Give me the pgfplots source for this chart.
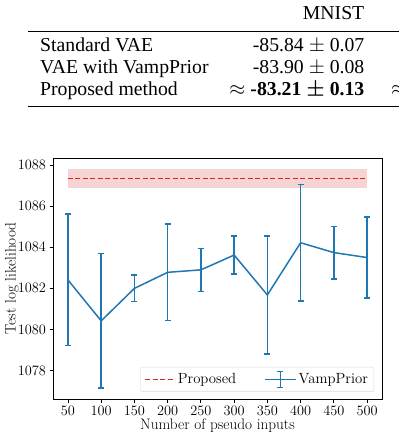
\documentclass[border=0pt]{standalone}
\usepackage{fontspec}
\usepackage{pgfplots}
\pgfplotsset{compat=1.18}
\newfontfamily\timesfont{Liberation Serif}
\definecolor{cblue}{RGB}{31,119,180}
\definecolor{cred}{RGB}{214,39,40}
\pgfplotstableread{
x y e
50 1082.41 3.20
100 1080.42 3.27
150 1082.00 0.64
200 1082.78 2.35
250 1082.90 1.05
300 1083.62 0.93
350 1081.68 2.87
400 1084.22 2.84
450 1083.74 1.28
500 1083.50 1.98
}\vamp
\begin{document}
\begin{tikzpicture}[x=1bp,y=1bp]
\path[use as bounding box] (0,0) rectangle (398,-438);
% table
\begin{scope}[every node/.style={inner sep=0pt, font=\timesfont\fontsize{19.8}{23}\selectfont}]
\node[anchor=base east] at (364.5,-19.5) {MNIST};
\draw[line width=0.9] (28,-31) -- (400,-31);
\node[anchor=base west] at (40,-52) {Standard VAE};
\node[anchor=base east] at (364.5,-52) {-85.84 $\pm$ 0.07};
\node[anchor=base west] at (40,-74) {VAE with VampPrior};
\node[anchor=base east] at (364.5,-74) {-83.90 $\pm$ 0.08};
\node[anchor=base west] at (40,-95.7) {Proposed method};
\node[anchor=base east] at (364.5,-95.7) {$\approx$ \textbf{-83.21 {\boldmath$\pm$} 0.13}};
\node[anchor=base west] at (391,-95.7) {$\approx$};
\draw[line width=1.6] (28,-106.7) -- (400,-106.7);
\end{scope}
\begin{axis}[
  at={(53bp,-399bp)}, anchor=south west,
  scale only axis, width=329bp, height=241bp,
  xmin=27.5, xmax=522.5, ymin=1076.62, ymax=1088.34,
  xtick={50,100,...,500}, ytick={1078,1080,...,1088},
  /pgf/number format/1000 sep={},
  tick align=outside, xtick pos=bottom, ytick pos=left,
  major tick length=3.5bp,
  every tick/.style={black, line width=0.8bp},
  axis line style={line width=0.8bp, black},
  tick label style={font=\fontsize{14.5}{17}\selectfont},
  label style={font=\fontsize{15.3}{18}\selectfont},
  xlabel={Number of pseudo inputs},
  ylabel={Test log likelihood},
  xlabel style={at={(axis description cs:0.5,0)}, anchor=base, yshift=-30.5bp},
  ylabel style={at={(axis description cs:-0.125,0.5)}, anchor=center},
  legend columns=2,
  legend style={at={(axis description cs:0.976,0.03)}, anchor=south east,
    draw=black!15, rounded corners=2bp, font=\fontsize{14.8}{17}\selectfont,
    inner xsep=4bp, inner ysep=3.5bp, /tikz/every even column/.append style={column sep=26bp}},
  legend cell align=left,
]
\addplot[draw=none, fill=cred, fill opacity=0.2, forget plot]
  coordinates {(50,1086.9) (500,1086.9) (500,1087.8) (50,1087.8)} -- cycle;
\addplot[color=cred, line width=1.3bp, dash pattern=on 5bp off 2.5bp,
  legend image code/.code={
    \draw[color=cred, line width=1.3bp, dash pattern=on 5bp off 2.5bp] (0bp,0bp) -- (30bp,0bp);
  }]
  coordinates {(50,1087.35) (500,1087.35)};
\addlegendentry{Proposed}
\addplot[color=cblue, line width=1.5bp, mark=none,
  legend image code/.code={
    \draw[color=cblue, line width=1.5bp] (0bp,0bp) -- (31bp,0bp);
    \draw[color=cblue, line width=1.5bp] (15.5bp,-8bp) -- (15.5bp,8bp);
    \draw[color=cblue, line width=1.5bp] (12.5bp,-8bp) -- (18.5bp,-8bp);
    \draw[color=cblue, line width=1.5bp] (12.5bp,8bp) -- (18.5bp,8bp);
  },
  error bars/.cd, y dir=both, y explicit,
  error bar style={line width=1.5bp},
  error mark options={rotate=90, mark size=3bp, line width=1.5bp}]
  table[x=x, y=y, y error=e] {\vamp};
\addlegendentry{VampPrior}
\end{axis}
\end{tikzpicture}
\end{document}
